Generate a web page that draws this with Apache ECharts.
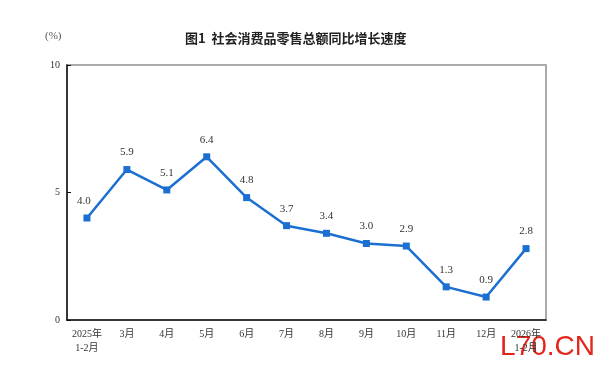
<!DOCTYPE html>
<html><head><meta charset="utf-8">
<script src="https://cdn.jsdelivr.net/npm/echarts@6/dist/echarts.min.js"></script>
<style>html,body{margin:0;padding:0;background:#fff}#c{width:599px;height:366px}</style>
</head><body><div id="c"></div>
<script>
const categories = ['2025年\n1-2月','3月','4月','5月','6月','7月','8月','9月','10月','11月','12月','2026年\n1-2月'];
const values = [4.0, 5.9, 5.1, 6.4, 4.8, 3.7, 3.4, 3.0, 2.9, 1.3, 0.9, 2.8];
const yTicks = [0, 5, 10];
const titleText = '图1  社会消费品零售总额同比增长速度';
const unitText = '(%)';
const watermark = 'L70.CN';

const chart = echarts.init(document.getElementById('c'));
const serif = '"Liberation Serif", "Noto Sans CJK SC", serif';
chart.setOption({
  animation: false,
  title: {
    text: titleText, left: 180, top: 27,
    textStyle: {fontFamily: '"Noto Sans CJK SC", sans-serif', fontSize: 13, fontWeight: 'bold', color: '#222'}
  },
  graphic: [
    {type: 'text', left: 45, top: 31, style: {text: unitText, font: '11px ' + serif, fill: '#555'}},
    {type: 'text', right: 4, top: 333, style: {text: watermark, font: '28px "Liberation Sans", sans-serif', fill: '#e3251b'}}
  ],
  grid: {left: 67, right: 53, top: 65, bottom: 46, show: true, borderColor: '#aaa', borderWidth: 2, backgroundColor: 'transparent'},
  xAxis: {
    type: 'category', data: categories, boundaryGap: true,
    axisLine: {lineStyle: {color: '#111', width: 1.5}},
    axisTick: {inside: true, length: 4, lineStyle: {color: '#111'}, alignWithLabel: false},
    axisLabel: {fontFamily: serif, fontSize: 10, color: '#333', margin: 7, lineHeight: 14, interval: 0}
  },
  yAxis: {
    type: 'value', min: yTicks[0], max: yTicks[yTicks.length - 1], interval: 5,
    axisLine: {show: true, lineStyle: {color: '#111', width: 1.5}},
    axisTick: {show: true, inside: true, length: 4, lineStyle: {color: '#111'}},
    splitLine: {show: false},
    axisLabel: {fontFamily: serif, fontSize: 10, color: '#333', margin: 7}
  },
  series: [{
    type: 'line', data: values.map((v, i) => i === 0 ? {value: v, label: {offset: [-3, 0]}} : v),
    symbol: 'rect', symbolSize: 7,
    lineStyle: {color: '#1b6fd1', width: 2.5},
    itemStyle: {color: '#1b6fd1'},
    label: {show: true, position: 'top', distance: 8, fontFamily: serif, fontSize: 11, color: '#333',
      formatter: p => Number(p.value).toFixed(1)}
  }]
});
</script></body></html>
